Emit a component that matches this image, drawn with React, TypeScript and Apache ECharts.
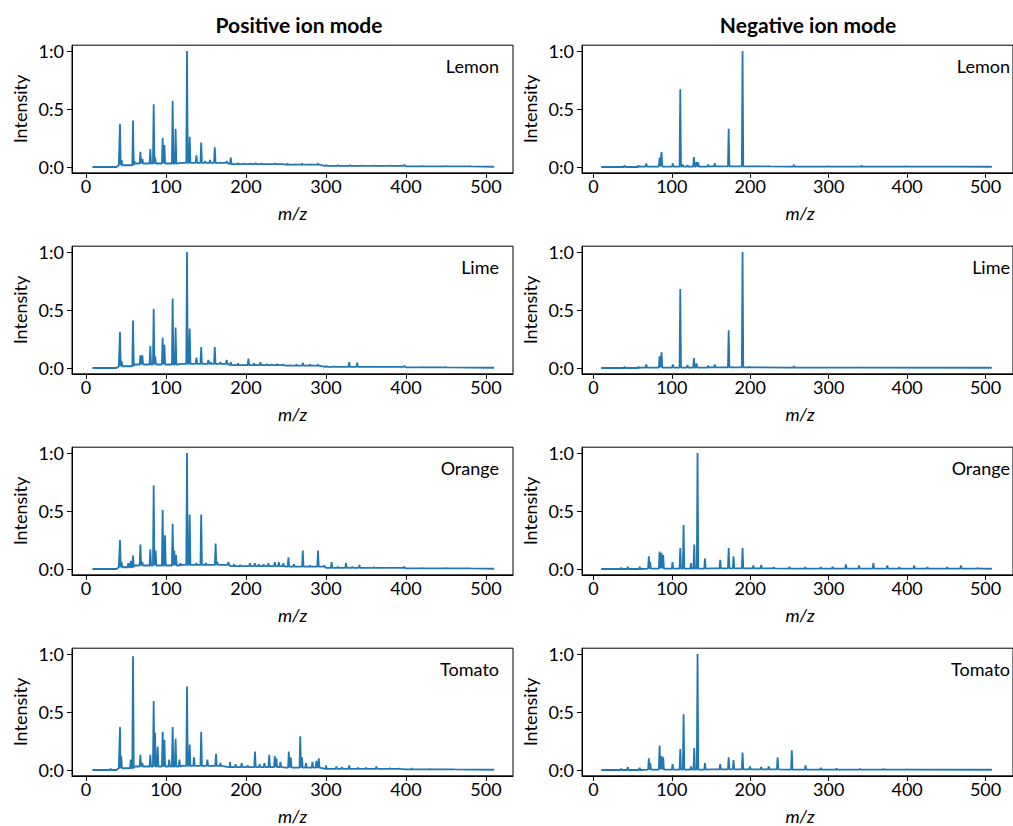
import React, { useEffect, useRef } from "react";
import * as echarts from "echarts";

// ---------- data ----------
const panelNames = ["Lemon", "Lime", "Orange", "Tomato"];
const columnTitles = ["Positive ion mode", "Negative ion mode"];
const xAxisName = "m/z";
const yAxisName = "Intensity";
const xTicks = [0, 100, 200, 300, 400, 500];
const yTicks = [0, 0.5, 1];
const yTickLabels = ["0:0", "0:5", "1:0"];

// noise floor readings [m/z, level]
const floorPos: number[][] = [
  [8, 0], [38, 0.0], [41, 0.015], [60, 0.03], [120, 0.035], [180, 0.025],
  [250, 0.02], [300, 0.01], [400, 0.005], [510, 0.002],
];
const floorNeg: number[][] = [
  [10, 0], [60, 0.004], [150, 0.006], [250, 0.003], [508, 0.002],
];

// peaks [m/z, intensity]
const posLemon: number[][] = [
  [42.5, 0.37], [44.5, 0.06], [58.8, 0.4], [60.5, 0.05], [68, 0.13], [70.5, 0.07],
  [80.4, 0.155], [84.6, 0.54], [86.5, 0.08], [95.8, 0.25], [98, 0.19], [108.3, 0.57],
  [112, 0.33], [126.25, 1.0], [129.6, 0.26], [138, 0.1], [144, 0.21], [149, 0.05],
  [155, 0.06], [161, 0.17], [168, 0.04], [175.8, 0.05], [181, 0.08], [190, 0.035],
  [198, 0.03], [205, 0.03], [212, 0.035], [220, 0.03], [228, 0.025], [236, 0.03],
  [244, 0.025], [252, 0.03], [262, 0.025], [270, 0.03], [280, 0.025], [290, 0.03],
  [300, 0.02], [315, 0.015], [330, 0.015], [345, 0.012], [360, 0.012], [380, 0.012],
  [398, 0.02], [420, 0.01], [450, 0.01], [480, 0.008],
];
const negLemon: number[][] = [
  [39.7, 0.015], [57.5, 0.015], [67.4, 0.03], [84.4, 0.08], [86.9, 0.13], [101.3, 0.03],
  [110.8, 0.67], [114, 0.02], [120, 0.015], [128.2, 0.085], [131.5, 0.045], [133.6, 0.04],
  [146.4, 0.02], [154.7, 0.03], [172.5, 0.33], [190.2, 1.0], [206, 0.008], [223.5, 0.008],
  [255.6, 0.02], [300, 0.006], [342, 0.012], [398, 0.006], [450, 0.004],
];
const posLime: number[][] = [
  [42.5, 0.31], [44.5, 0.06], [58.8, 0.41], [68, 0.11], [70.4, 0.11], [80.4, 0.19],
  [84.6, 0.51], [86.5, 0.1], [95.8, 0.26], [98, 0.2], [108.3, 0.6], [112, 0.35],
  [126.25, 1.0], [129.6, 0.34], [138, 0.09], [144, 0.18], [152.9, 0.07], [156, 0.05],
  [161, 0.18], [168, 0.05], [175.8, 0.07], [181, 0.05], [190, 0.04], [203, 0.08],
  [210, 0.04], [218, 0.05], [226, 0.035], [232, 0.03], [239, 0.035], [246, 0.03],
  [255, 0.025], [263, 0.03], [271, 0.045], [280, 0.03], [290, 0.03], [300, 0.02],
  [310, 0.015], [329, 0.05], [339, 0.045], [355, 0.012], [370, 0.01], [398, 0.02],
  [420, 0.01], [450, 0.008],
];
const negLime: number[][] = [
  [39.7, 0.012], [57.5, 0.012], [67.4, 0.03], [84.4, 0.1], [86.9, 0.135], [101.3, 0.03],
  [110.8, 0.68], [120, 0.025], [128.2, 0.086], [131.5, 0.04], [146.4, 0.02], [154.7, 0.03],
  [172.5, 0.325], [190.2, 1.0], [199, 0.01], [255.6, 0.015], [342, 0.008],
];
const posOrange: number[][] = [
  [42.5, 0.25], [44.5, 0.06], [52.9, 0.05], [56, 0.07], [58.8, 0.115], [68, 0.21],
  [70.4, 0.06], [80.4, 0.17], [84.6, 0.72], [87, 0.16], [95.8, 0.51], [98.75, 0.29],
  [108.3, 0.39], [110.4, 0.16], [112.5, 0.12], [118, 0.05], [126.25, 1.0], [129.6, 0.47],
  [138, 0.05], [144, 0.47], [150, 0.05], [162, 0.22], [164, 0.06], [170, 0.04],
  [178, 0.06], [185, 0.04], [193, 0.035], [205, 0.05], [211, 0.05], [216, 0.04],
  [222, 0.04], [228, 0.05], [236, 0.06], [241, 0.06], [246.7, 0.05], [253, 0.1],
  [260, 0.04], [271, 0.16], [280, 0.03], [290, 0.16], [298, 0.03], [307, 0.06],
  [315, 0.02], [325, 0.05], [333, 0.02], [341.7, 0.035], [360, 0.015], [380, 0.012],
  [397.5, 0.02], [420, 0.01], [450, 0.008], [480, 0.006],
];
const negOrange: number[][] = [
  [35.5, 0.01], [43.8, 0.02], [59, 0.02], [70.7, 0.11], [72.4, 0.06], [84.4, 0.15],
  [86.9, 0.14], [89, 0.12], [100.9, 0.06], [110.8, 0.18], [115, 0.38], [124.5, 0.05],
  [128.6, 0.21], [132.8, 1.0], [142.3, 0.09], [161.7, 0.08], [172.5, 0.18], [178.7, 0.11],
  [190.2, 0.18], [204, 0.03], [214, 0.035], [230, 0.015], [250, 0.02], [270, 0.015],
  [290, 0.015], [305, 0.02], [322, 0.04], [338.7, 0.03], [357, 0.05], [374.7, 0.03],
  [390, 0.015], [409, 0.03], [426, 0.015], [451, 0.015], [468.6, 0.03], [490, 0.01],
];
const posTomato: number[][] = [
  [30.8, 0.01], [42.5, 0.37], [44, 0.12], [56, 0.09], [58.8, 0.98], [68, 0.13],
  [70.4, 0.06], [80.4, 0.13], [84.6, 0.595], [86.3, 0.32], [89.6, 0.2], [95.8, 0.33],
  [98, 0.26], [104, 0.09], [108.3, 0.37], [112, 0.27], [116.7, 0.09], [126.25, 0.72],
  [129.6, 0.22], [135, 0.11], [144, 0.33], [151.7, 0.09], [162.5, 0.14], [168, 0.06],
  [180, 0.07], [187, 0.05], [194.6, 0.06], [202, 0.04], [211.25, 0.16], [217, 0.05],
  [223, 0.06], [229, 0.13], [236, 0.12], [238, 0.1], [243, 0.07], [253.5, 0.16],
  [256, 0.11], [267.8, 0.29], [270, 0.11], [275, 0.06], [283, 0.07], [288, 0.08],
  [291, 0.1], [300, 0.04], [313, 0.03], [320, 0.025], [329, 0.04], [340, 0.02],
  [350, 0.02], [363, 0.03], [380, 0.015], [392, 0.012], [407, 0.015], [430, 0.008],
  [460, 0.006],
];
const negTomato: number[][] = [
  [35.5, 0.01], [43.8, 0.025], [59, 0.02], [70.7, 0.1], [72.5, 0.06], [84.4, 0.21],
  [86.9, 0.12], [89, 0.11], [101, 0.05], [110.8, 0.18], [115, 0.48], [124.5, 0.03],
  [128.6, 0.19], [132.8, 1.0], [142.3, 0.06], [161.7, 0.05], [172.5, 0.11], [178.7, 0.085],
  [190.2, 0.15], [199.6, 0.03], [214, 0.025], [223.5, 0.03], [234.9, 0.11], [253, 0.17],
  [270.5, 0.04], [290, 0.02], [310, 0.012], [340, 0.01], [370, 0.01], [400, 0.008],
];

const spectra = [
  [posLemon, negLemon],
  [posLime, negLime],
  [posOrange, negOrange],
  [posTomato, negTomato],
];
const floors = [floorPos, floorNeg];

// ---------- construction ----------
function buildLine(peaks: number[][], floor: number[][]): number[][] {
  const levelAt = (m: number) => {
    let lv = floor[0][1];
    for (const f of floor) if (f[0] <= m) lv = f[1];
    return lv;
  };
  const pts: number[][] = floor.map((f) => [f[0], f[1]]);
  for (const [m, h] of peaks) {
    const b = levelAt(m);
    pts.push([m - 0.9, b], [m, h], [m + 0.9, b]);
  }
  pts.sort((a, b) => a[0] - b[0]);
  return pts;
}

const FONT = "Lato, 'Open Sans', sans-serif";
const ROW_TOP = [45.2, 246.2, 447.2, 648.2];
const ROW_H = 127.6;
const COLS = [
  { left: 72, width: 441, min: -17.5, max: 533.75 },
  { left: 582, width: 442, min: -14.5, max: 535 },
];
const BLUE = "#1f77b4";
const FS = 18;

function buildOption() {
  const grid: any[] = [];
  const xAxis: any[] = [];
  const yAxis: any[] = [];
  const series: any[] = [];
  const graphic: any[] = [];

  columnTitles.forEach((t, c) => {
    graphic.push({
      type: "text",
      x: c === 0 ? 299 : 808,
      y: 24,
      style: {
        text: t, fontSize: 21, fontWeight: "bold", fontFamily: FONT, fill: "#000",
        textAlign: "center", textVerticalAlign: "middle",
      },
    });
  });

  for (let r = 0; r < 4; r++) {
    for (let c = 0; c < 2; c++) {
      const idx = grid.length;
      const col = COLS[c];
      const top = ROW_TOP[r];
      grid.push({
        left: col.left, top, width: col.width, height: ROW_H,
        show: true, borderColor: "#000", borderWidth: 1, backgroundColor: "transparent",
      });
      xAxis.push({
        type: "value", gridIndex: idx, min: col.min, max: col.max,
        axisLine: { show: true, onZero: false, lineStyle: { color: "#000", width: 1 } },
        axisTick: { show: true, inside: false, length: 5, customValues: xTicks, lineStyle: { color: "#000", width: 1 } },
        axisLabel: { customValues: xTicks, color: "#000", fontSize: FS, fontFamily: FONT, margin: 4 },
        splitLine: { show: false },
      });
      yAxis.push({
        type: "value", gridIndex: idx, min: -0.05, max: 1.05,
        axisLine: { show: true, onZero: false, lineStyle: { color: "#000", width: 1 } },
        axisTick: { show: true, inside: false, length: 5, customValues: yTicks, lineStyle: { color: "#000", width: 1 } },
        axisLabel: {
          customValues: yTicks, color: "#000", fontSize: FS, fontFamily: FONT, margin: 8,
          formatter: (v: number) => {
            const i = yTicks.findIndex((t) => Math.abs(t - v) < 1e-9);
            return i >= 0 ? yTickLabels[i] : "";
          },
        },
        splitLine: { show: false },
      });
      series.push({
        type: "line", xAxisIndex: idx, yAxisIndex: idx,
        data: buildLine(spectra[r][c], floors[c]),
        showSymbol: false, symbol: "none", silent: true,
        lineStyle: { color: BLUE, width: 1.8 },
      });
      // texts
      graphic.push({
        type: "text", x: col.left - 52, y: top + ROW_H / 2, rotation: Math.PI / 2,
        style: {
          text: yAxisName, fontSize: FS, fontFamily: FONT, fill: "#000",
          textAlign: "center", textVerticalAlign: "middle",
        },
      });
      graphic.push({
        type: "text", x: col.left + col.width / 2 - (c === 0 ? 0 : 3), y: top + ROW_H + 40,
        style: {
          text: xAxisName, fontSize: FS, fontStyle: "italic", fontFamily: FONT, fill: "#000",
          textAlign: "center", textVerticalAlign: "middle",
        },
      });
      graphic.push({
        type: "text", x: col.left + col.width - 14, y: top + 21,
        style: {
          text: panelNames[r], fontSize: FS, fontFamily: FONT, fill: "#000",
          textAlign: "right", textVerticalAlign: "middle",
        },
      });
    }
  }

  return { animation: false, backgroundColor: "#fff", grid, xAxis, yAxis, series, graphic };
}

export default function App() {
  const ref = useRef<HTMLDivElement>(null);
  useEffect(() => {
    if (!ref.current) return;
    const chart = echarts.init(ref.current, undefined, { renderer: "svg" });
    chart.setOption(buildOption() as any);
    return () => chart.dispose();
  }, []);
  return (
    <div
      ref={ref}
      style={{ position: "fixed", left: 0, top: 0, width: 1013, height: 826, background: "#fff" }}
    />
  );
}
